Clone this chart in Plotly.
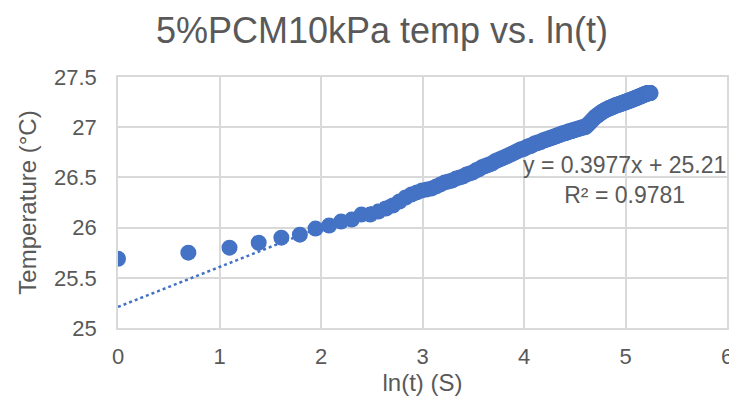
import numpy as np
import plotly.graph_objects as go

# time in seconds (1..190), x = ln(t)
time_s = list(range(1, 191))
temp_c = [
    25.69, 25.75, 25.80, 25.85, 25.90, 25.93, 25.99, 26.02, 26.06, 26.08,
    26.13, 26.13, 26.16, 26.19, 26.22, 26.26, 26.30, 26.33, 26.35, 26.37,
    26.38, 26.39, 26.41, 26.43, 26.45, 26.46, 26.47, 26.49, 26.50, 26.51,
    26.53, 26.54, 26.55, 26.57, 26.58, 26.60, 26.61, 26.62, 26.63, 26.64,
    26.66, 26.67, 26.68, 26.69, 26.70, 26.71, 26.72, 26.73, 26.74, 26.75,
    26.76, 26.77, 26.78, 26.78, 26.79, 26.80, 26.81, 26.81, 26.82, 26.83,
    26.84, 26.84, 26.85, 26.85, 26.86, 26.87, 26.87, 26.88, 26.88, 26.89,
    26.89, 26.90, 26.90, 26.91, 26.91, 26.92, 26.92, 26.93, 26.93, 26.94,
    26.94, 26.94, 26.95, 26.95, 26.96, 26.96, 26.96, 26.97, 26.97, 26.97,
    26.98, 26.98, 26.98, 26.99, 26.99, 26.99, 27.00, 27.00, 27.00, 27.00,
    27.01, 27.02, 27.03, 27.04, 27.05, 27.06, 27.07, 27.08, 27.09, 27.10,
    27.11, 27.11, 27.12, 27.13, 27.13, 27.14, 27.15, 27.15, 27.16, 27.16,
    27.17, 27.17, 27.18, 27.18, 27.18, 27.19, 27.19, 27.19, 27.20, 27.20,
    27.20, 27.21, 27.21, 27.21, 27.22, 27.22, 27.22, 27.22, 27.23, 27.23,
    27.23, 27.23, 27.24, 27.24, 27.24, 27.24, 27.25, 27.25, 27.25, 27.25,
    27.26, 27.26, 27.26, 27.26, 27.27, 27.27, 27.27, 27.27, 27.28, 27.28,
    27.28, 27.28, 27.29, 27.29, 27.29, 27.29, 27.30, 27.30, 27.30, 27.30,
    27.31, 27.31, 27.31, 27.31, 27.32, 27.32, 27.32, 27.32, 27.33, 27.33,
    27.33, 27.33, 27.33, 27.34, 27.34, 27.34, 27.34, 27.34, 27.34, 27.34,
]

# trendline as printed on the chart
trend_slope = 0.3977
trend_intercept = 25.21
trend_r2 = 0.9781

x_ticks = [0, 1, 2, 3, 4, 5, 6]
y_ticks = [25, 25.5, 26, 26.5, 27, 27.5]

ln_t = np.log(np.array(time_s, dtype=float))
trend_x = np.array([0.0, ln_t.max()])
trend_y = trend_slope * trend_x + trend_intercept

BLUE = "#4472C4"
GREY = "#595959"
GRID = "#d9d9d9"
FONT = "Liberation Sans, Arial, sans-serif"

fig = go.Figure()
fig.add_trace(go.Scatter(
    x=ln_t, y=temp_c, mode="markers",
    marker=dict(color=BLUE, size=16, line=dict(width=0)),
    showlegend=False,
))
fig.add_trace(go.Scatter(
    x=trend_x, y=trend_y, mode="lines",
    line=dict(color=BLUE, width=2.5, dash="dot"),
    hoverinfo="skip", showlegend=False,
))

fig.add_annotation(
    x=4.99, y=26.47, xref="x", yref="y",
    text=f"y = {trend_slope}x + {trend_intercept}<br>R² = {trend_r2}",
    showarrow=False, align="center",
    font=dict(family=FONT, size=23, color=GREY),
)

# the page body adds an 8 px offset, so the figure is 8 px smaller
fig.update_layout(
    width=729, height=399,
    margin=dict(l=110, r=10, t=69, b=79, autoexpand=False),
    paper_bgcolor="white", plot_bgcolor="white",
    font=dict(family=FONT, color=GREY),
    title=dict(
        text="5%PCM10kPa temp vs. ln(t)",
        x=0.513, xanchor="center", y=0.945, yanchor="middle",
        font=dict(family=FONT, size=36, color=GREY),
    ),
    xaxis=dict(
        range=[0, 6], tickvals=x_ticks, showgrid=True, gridcolor=GRID,
        gridwidth=1.5, zeroline=False, showline=True, linecolor=GRID,
        linewidth=1.5, mirror=True, ticks="", ticklabelstandoff=8,
        automargin=False,
        tickfont=dict(family=FONT, size=22, color=GREY),
        title=dict(text="ln(t) (S)", standoff=6,
                   font=dict(family=FONT, size=24, color=GREY)),
    ),
    yaxis=dict(
        range=[25, 27.5], tickvals=y_ticks, showgrid=True, gridcolor=GRID,
        gridwidth=1.5, zeroline=False, showline=True, linecolor=GRID,
        linewidth=1.5, mirror=True, ticks="", ticklabelstandoff=15,
        automargin=False,
        tickfont=dict(family=FONT, size=22, color=GREY),
        title=dict(text="Temperature (°C)", standoff=11,
                   font=dict(family=FONT, size=24, color=GREY)),
    ),
)

fig.write_html("out.html")
